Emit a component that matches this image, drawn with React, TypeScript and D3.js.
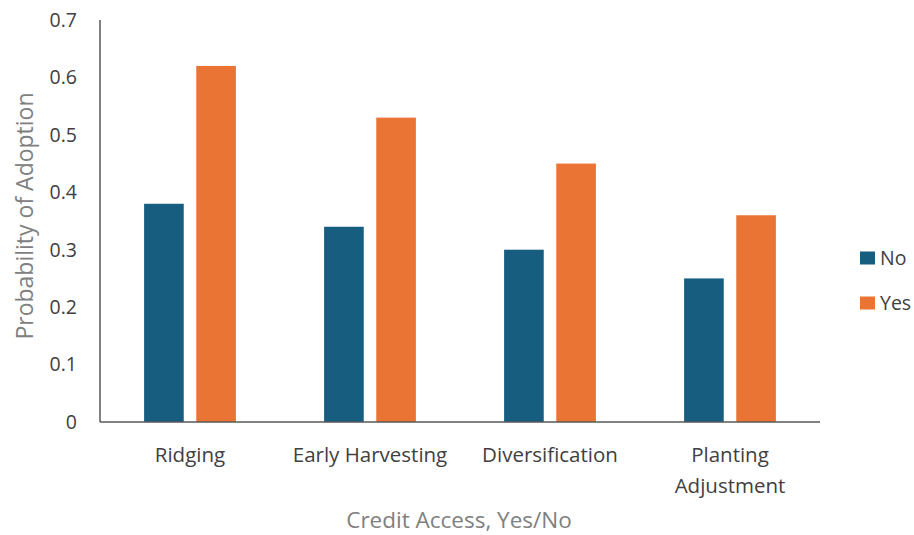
import React from "react";
import * as d3 from "d3";

const categories: string[][] = [["Ridging"], ["Early Harvesting"], ["Diversification"], ["Planting", "Adjustment"]];
const seriesNames = ["No", "Yes"];
const noValues = [0.38, 0.34, 0.30, 0.25];
const yesValues = [0.62, 0.53, 0.45, 0.36];
const yTicks = [0, 0.1, 0.2, 0.3, 0.4, 0.5, 0.6, 0.7];
const colors = ["#175d80", "#ea7434"];

export default function App() {
  const W = 914, H = 535;
  const left = 100, right = 820, top = 20, bottom = 422;
  const x0 = d3.scaleBand<number>().domain(d3.range(categories.length)).range([left, right]).paddingInner(0.49).paddingOuter(0.245);
  const x1 = d3.scaleBand<number>().domain([0, 1]).range([0, x0.bandwidth()]).paddingInner(0.24);
  const y = d3.scaleLinear().domain([0, 0.7]).range([bottom, top]);
  const series = [noValues, yesValues];
  const font = "'Open Sans', 'Liberation Sans', sans-serif";
  return (
    <svg width={W} height={H} style={{ position: "absolute", left: 0, top: 0 }} fontFamily={font}>
      <rect width={W} height={H} fill="#fff" />
      {categories.map((c, i) =>
        series.map((s, j) => (
          <rect key={`${i}-${j}`} x={x0(i)! + x1(j)!} y={y(s[i])} width={x1.bandwidth()} height={bottom - y(s[i])} fill={colors[j]} />
        ))
      )}
      <line x1={left} x2={left} y1={top} y2={bottom} stroke="#595959" strokeWidth={1.5} />
      <line x1={left} x2={right} y1={bottom} y2={bottom} stroke="#595959" strokeWidth={1.5} />
      {yTicks.map((t) => (
        <text key={t} x={77} y={y(t)} dy="0.35em" textAnchor="end" fontSize={19.5} fill="#404040">
          {t === 0 ? "0" : t.toFixed(1)}
        </text>
      ))}
      {categories.map((c, i) => (
        <text key={i} x={x0(i)! + x0.bandwidth() / 2} y={462} textAnchor="middle" fontSize={20.5} fill="#404040">
          {c.map((l, k) => (
            <tspan key={k} x={x0(i)! + x0.bandwidth() / 2} dy={k === 0 ? 0 : 31}>{l}</tspan>
          ))}
        </text>
      ))}
      <text x={459} y={528} textAnchor="middle" fontSize={22.5} fill="#808080">Credit Access, Yes/No</text>
      <text transform={`translate(33, 216) rotate(-90)`} textAnchor="middle" fontSize={23} fill="#808080">Probability of Adoption</text>
      {seriesNames.map((n, j) => (
        <g key={n} transform={`translate(860, ${258 + j * 45})`}>
          <rect x={0} y={-6.5} width={15} height={13} fill={colors[j]} />
          <text x={20} y={0} dy="0.35em" fontSize={19.5} fill="#404040">{n}</text>
        </g>
      ))}
    </svg>
  );
}
